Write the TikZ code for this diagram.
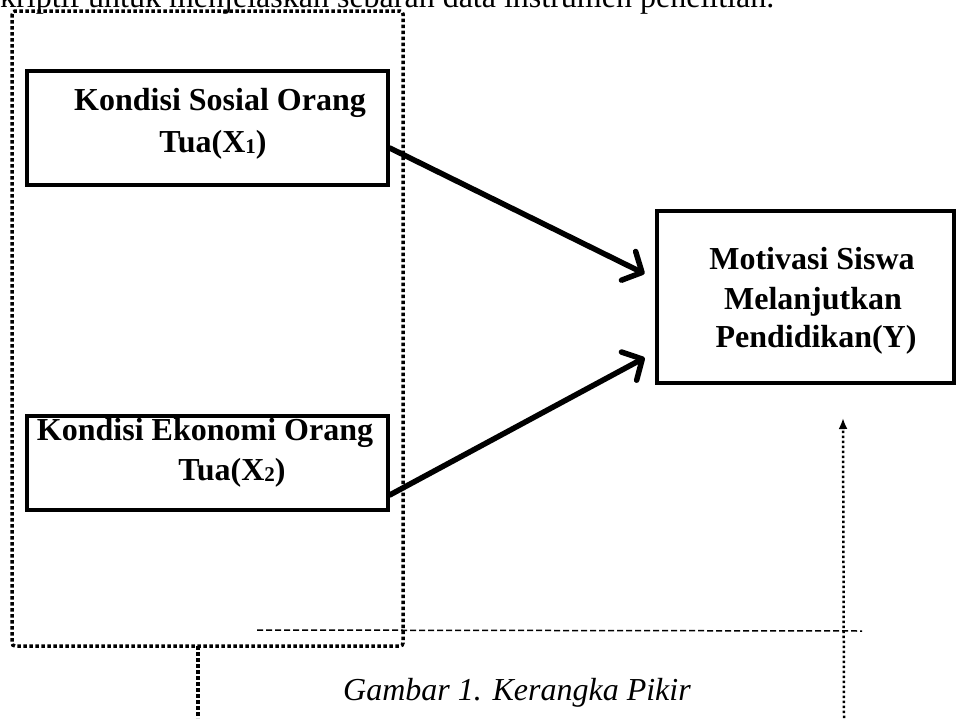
\documentclass[tikz,border=0pt]{standalone}
\usepackage{fontspec}
\setmainfont{Liberation Serif}
\usetikzlibrary{arrows.meta}
\tikzset{
  boxframe/.style={draw=black, line width=3.5pt, inner sep=0pt},
  boxtext/.style={font=\fontsize{32}{40}\selectfont\bfseries, inner sep=0pt, anchor=base},
  bigdots/.style={line width=3.5pt, dash pattern=on 3.5pt off 2.5pt},
  mainarrow/.style={line width=5.5pt, line cap=round, -{Straight Barb[length=15pt, width=32pt, line width=5.5pt, round]}},
  thindash/.style={line width=1.5pt, dash pattern=on 6pt off 3pt},
  thindots/.style={line width=2.5pt, dash pattern=on 2.5pt off 2.5pt, -{Latex[length=11pt, width=9pt]}},
}
\newcommand{\subsm}[1]{\raisebox{-1pt}{\fontsize{21}{21}\selectfont #1}}
\begin{document}
\begin{tikzpicture}[x=1pt, y=-1pt]
\useasboundingbox (0,0) rectangle (956,718);
\begin{scope}
\clip (0,0) rectangle (956,718);
% top running text (cut off at the top edge, as in the reference)
\node[font=\fontsize{32}{40}\selectfont, inner sep=0pt, anchor=base west] (toptext) at (0,7) {kriptif untuk menjelaskan sebaran data instrumen penelitian.};
% dotted grouping frame
\draw[bigdots, rounded corners=3pt] (12,11) rectangle (403,646);
\coordinate (frametail) at (198,646);
\coordinate (framebottom) at (198,718);
\draw[bigdots] (frametail) -- (framebottom);
% boxes
\node[boxframe, minimum width=361pt, minimum height=114pt] (b1) at (207.5,128) {};
\node[boxframe, minimum width=361pt, minimum height=94pt] (b2) at (207.5,463) {};
\node[boxframe, minimum width=297pt, minimum height=172pt] (bY) at (805.5,297) {};
% texts
\node[boxtext] (t1a) at (220,110) {Kondisi Sosial Orang};
\node[boxtext] (t1b) at (213,152) {Tua(X\subsm{1})};
\node[boxtext] (t2a) at (205,440) {Kondisi Ekonomi Orang};
\node[boxtext] (t2b) at (232,480) {Tua(X\subsm{2})};
\node[boxtext] (tYa) at (812,269) {Motivasi Siswa};
\node[boxtext] (tYb) at (813,309) {Melanjutkan};
\node[boxtext] (tYc) at (816,347) {Pendidikan(Y)};
% arrows
\draw[mainarrow, shorten >=12pt] ([yshift=-20pt]b1.east) -- ([yshift=18pt]bY.west);
\draw[mainarrow, shorten >=12pt] ([yshift=-32pt]b2.east) -- ([yshift=-55pt]bY.west);
% dashed horizontal line
\coordinate (dashL) at (257,630);
\coordinate (dashR) at (862,631);
\draw[thindash] (dashL) -- (dashR);
% dotted vertical arrow
\coordinate (vbot) at (844,718);
\coordinate (vtop) at (843,418);
\draw[thindots] (vbot) -- (vtop);
% caption
\node[font=\fontsize{32}{40}\selectfont\itshape, inner sep=0pt, anchor=base] (cap) at (517,700) {Gambar 1. Kerangka Pikir};
\end{scope}
\end{tikzpicture}
\end{document}
